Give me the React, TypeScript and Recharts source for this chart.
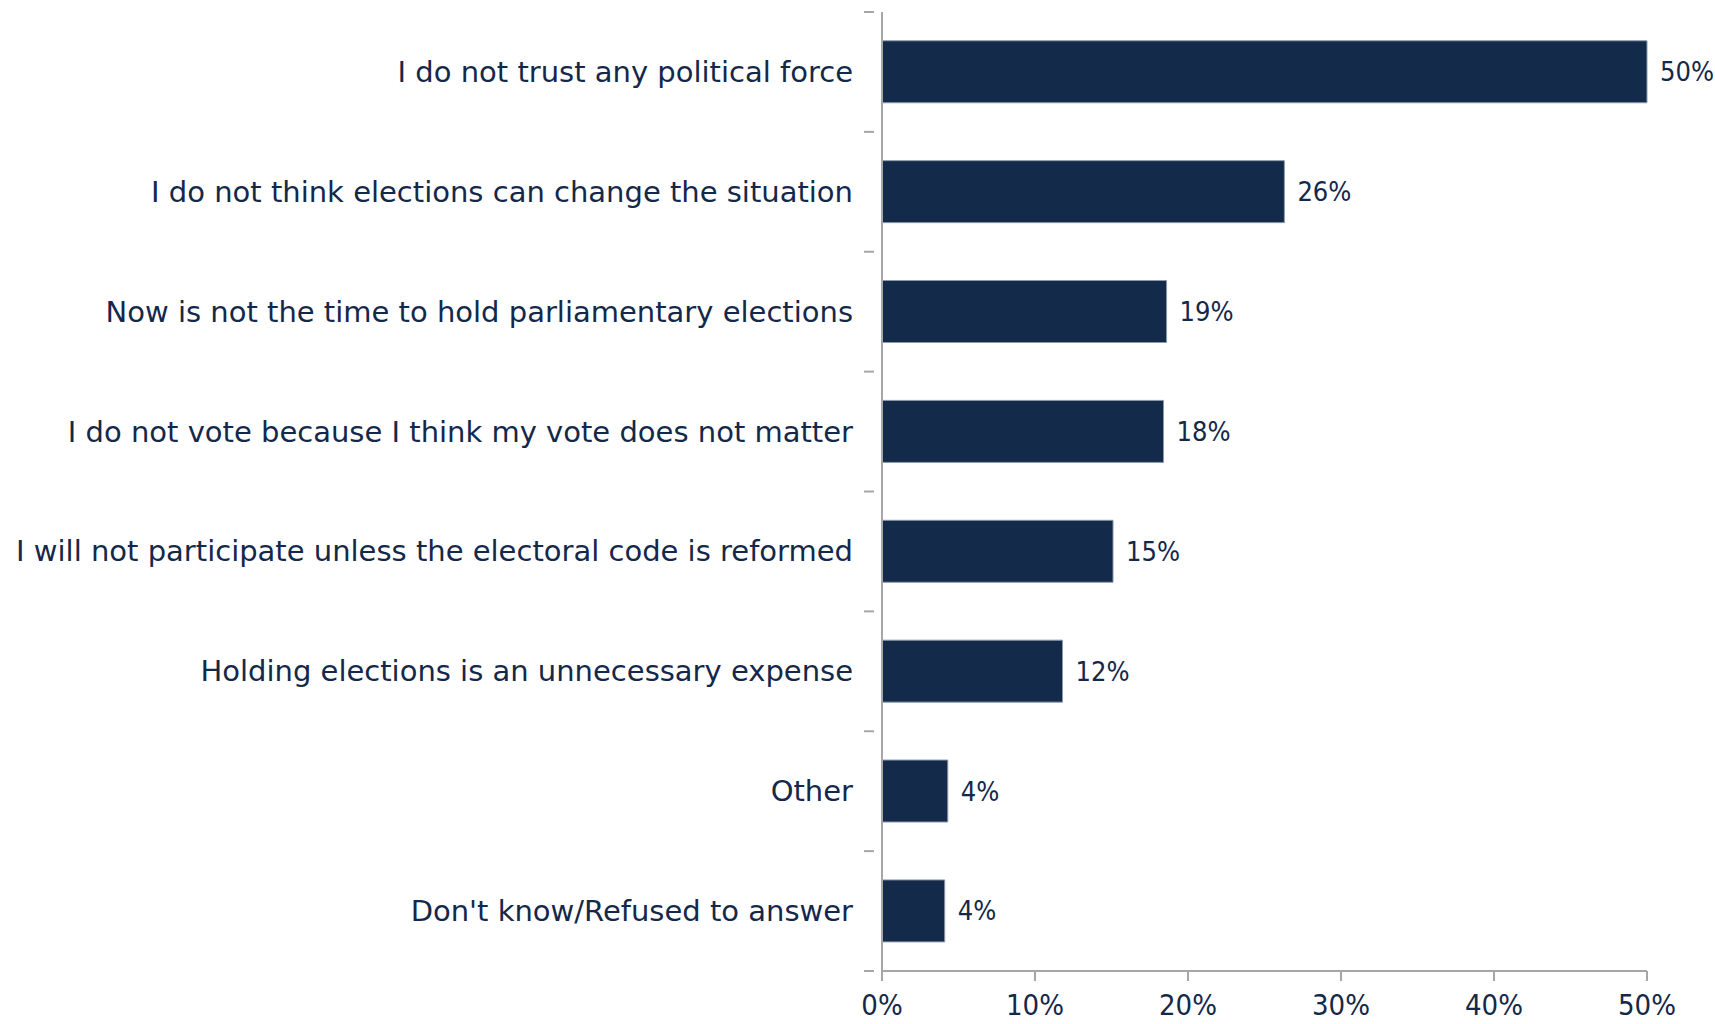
import { BarChart, Bar, XAxis, YAxis, LabelList } from 'recharts'

const reasons = [
  'I do not trust any political force',
  'I do not think elections can change the situation',
  'Now is not the time to hold parliamentary elections',
  'I do not vote because I think my vote does not matter',
  'I will not participate unless the electoral code is reformed',
  'Holding elections is an unnecessary expense',
  'Other',
  "Don't know/Refused to answer",
]
const shares = [50, 26.3, 18.6, 18.4, 15.1, 11.8, 4.3, 4.1]
const xTicks = [0, 10, 20, 30, 40, 50]

const data = reasons.map((r, i) => ({ reason: r, share: shares[i] }))

const W = 1715
const H = 1024
const margin = { top: 12, right: 68, left: 0, bottom: 0 }
const axisW = 882
const xAxisH = 53
const band = (H - margin.top - margin.bottom - xAxisH) / reasons.length

const ink = '#14284a'
const axisGrey = '#a6a6a6'
const font = 'DejaVu Sans, sans-serif'
const numFont = 'DejaVu Sans Condensed, DejaVu Sans, sans-serif'

function ReasonTick(props: any) {
  const { x, y, payload, index } = props
  return (
    <g>
      <line x1={x - 10} x2={x} y1={y - band / 2} y2={y - band / 2} stroke={axisGrey} strokeWidth={2} />
      {index === reasons.length - 1 && (
        <line x1={x - 10} x2={x} y1={y + band / 2} y2={y + band / 2} stroke={axisGrey} strokeWidth={2} />
      )}
      <text x={x - 21} y={y} dy={10} textAnchor="end" fontSize={29} fill={ink} fontFamily={font}>
        {payload.value}
      </text>
    </g>
  )
}

export default function App() {
  return (
    <div style={{ background: '#fff', width: W, height: H }}>
      <style>{'body{margin:0}'}</style>
      <BarChart width={W} height={H} data={data} layout="vertical" margin={margin} barCategoryGap="24%">
        <XAxis
          type="number"
          domain={[0, 50]}
          ticks={xTicks}
          tickFormatter={v => `${v}%`}
          height={xAxisH}
          axisLine={{ stroke: axisGrey, strokeWidth: 2 }}
          tickLine={{ stroke: axisGrey, strokeWidth: 2 }}
          tickSize={10}
          tickMargin={13}
          tick={{ fontSize: 29, fill: ink, fontFamily: numFont }}
          interval={0}
        />
        <YAxis
          type="category"
          dataKey="reason"
          width={axisW}
          axisLine={{ stroke: axisGrey, strokeWidth: 2 }}
          tickLine={false}
          tick={<ReasonTick />}
          interval={0}
        />
        <Bar dataKey="share" fill="#132a4a" stroke="#8e9aab" strokeWidth={1} isAnimationActive={false}>
          <LabelList
            dataKey="share"
            position="right"
            offset={13}
            formatter={(v: any) => `${Math.round(Number(v))}%`}
            style={{ fontSize: 27, fill: ink, fontFamily: numFont }}
          />
        </Bar>
      </BarChart>
    </div>
  )
}
